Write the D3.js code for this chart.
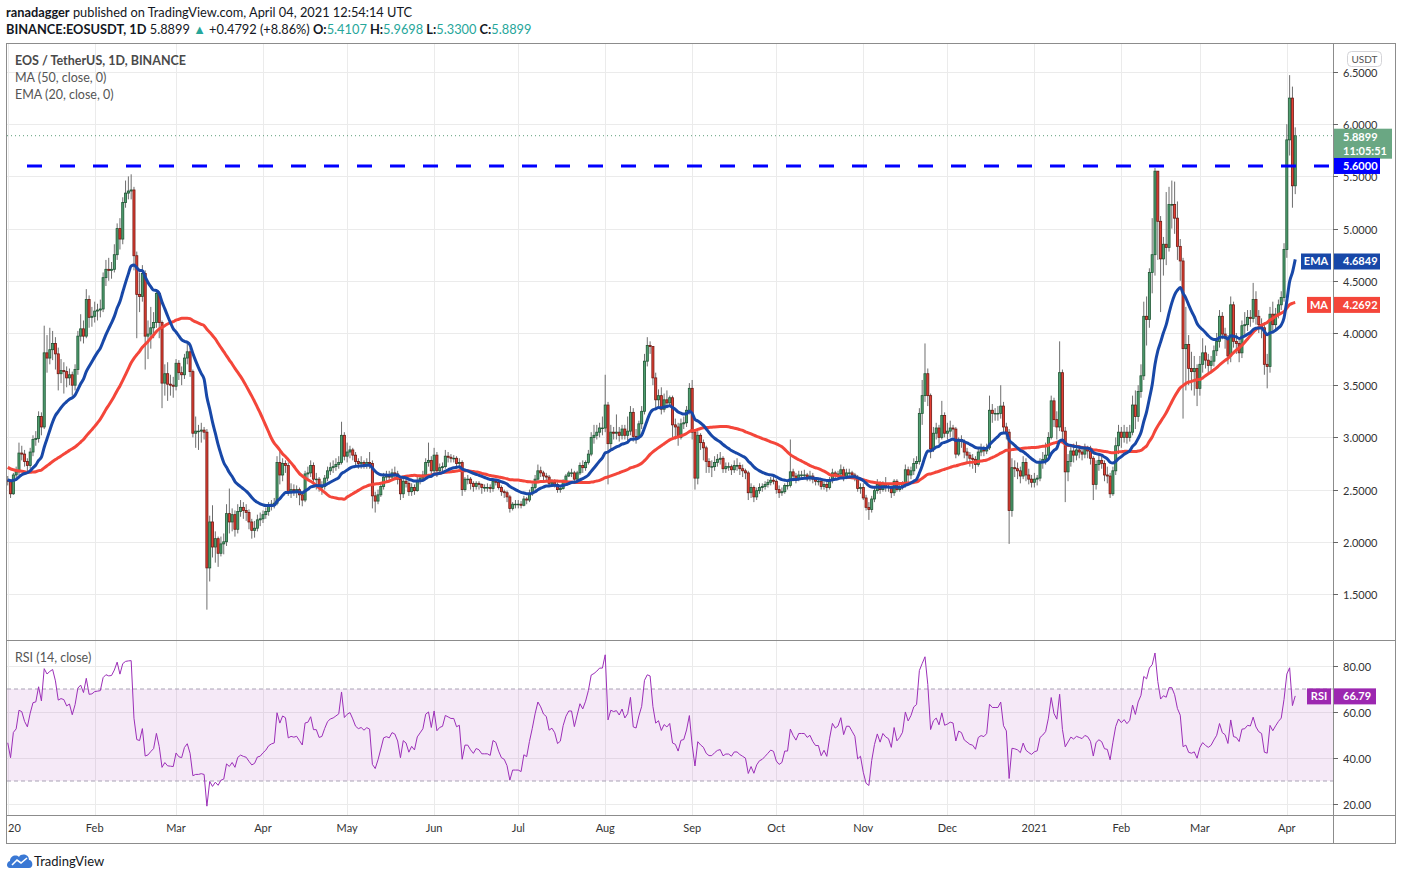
<!DOCTYPE html>
<html>
<head>
  <meta charset="utf-8">
  <script src="https://d3js.org/d3.v7.min.js"></script>
  <style>
    body { margin: 0; background: #fff; }
    svg { display: block; font-family: Lato, "Liberation Sans", sans-serif; }
  </style>
</head>
<body>
<script>
// closes before Jan 1 2020 (only used to warm up the MA / EMA / RSI)
var preCloses = [
  3.20,3.15,3.10,3.05,3.05,3.00,3.00,2.95,2.90,2.85,
  2.85,2.70,2.82,2.72,2.75,2.88,2.82,2.90,2.78,2.76,
  2.70,2.72,2.68,2.74,2.80,2.86,2.78,2.72,2.66,2.64,
  2.62,2.64,2.55,2.48,2.30,2.22,2.52,2.45,2.50,2.48,
  2.62,2.58,2.55,2.54,2.56,2.60,2.64,2.70,2.62,2.59
];

// daily candles, Jan 1 2020 .. Apr 4 2021 (open = previous close)
var closes = [
  // 2020 jan
  2.58,2.46,2.64,2.67,2.85,2.84,2.77,2.73,2.86,2.98,2.99,3.20,3.10,3.81,3.76,3.84,3.90,3.80,3.61,3.64,3.63,3.57,3.60,3.50,3.65,3.97,4.04,3.97,4.32,4.15,4.16,
  // feb
  4.21,4.22,4.23,4.53,4.61,4.60,4.61,4.75,5.00,4.90,5.25,5.34,5.36,5.37,4.74,4.37,4.35,4.57,3.97,3.99,4.05,4.10,4.38,4.10,3.52,3.61,3.51,3.50,3.49,
  // mar
  3.71,3.62,3.60,3.76,3.82,3.63,3.04,3.06,3.06,3.07,3.05,1.75,2.19,1.95,2.03,1.89,1.98,2.00,2.27,2.19,2.26,2.12,2.29,2.33,2.30,2.28,2.19,2.11,2.13,2.21,2.22,
  // apr
  2.26,2.29,2.34,2.36,2.37,2.76,2.64,2.75,2.73,2.48,2.50,2.49,2.50,2.45,2.40,2.65,2.66,2.73,2.60,2.60,2.52,2.53,2.61,2.68,2.71,2.72,2.74,2.76,3.02,2.82,
  // may
  2.86,2.88,2.83,2.77,2.75,2.76,2.74,2.76,2.75,2.44,2.39,2.45,2.53,2.62,2.63,2.62,2.66,2.65,2.60,2.46,2.58,2.56,2.48,2.52,2.49,2.58,2.61,2.64,2.76,2.78,2.68,
  // jun
  2.83,2.68,2.71,2.72,2.82,2.81,2.80,2.80,2.75,2.76,2.50,2.60,2.60,2.56,2.53,2.56,2.55,2.52,2.52,2.52,2.51,2.58,2.57,2.52,2.48,2.47,2.43,2.32,2.36,2.36,
  // jul
  2.36,2.35,2.41,2.40,2.46,2.52,2.60,2.68,2.66,2.63,2.62,2.56,2.57,2.55,2.50,2.51,2.58,2.63,2.66,2.66,2.60,2.66,2.73,2.71,2.76,2.84,3.00,3.02,3.05,3.09,3.09,
  // aug
  3.31,2.94,3.05,3.04,3.05,3.02,3.08,3.02,3.06,3.24,3.01,3.00,3.13,3.25,3.73,3.88,3.87,3.57,3.36,3.40,3.27,3.36,3.33,3.38,3.12,3.10,3.00,3.13,3.14,3.26,3.47,
  // sep
  3.05,2.61,3.02,2.95,2.90,2.77,2.72,2.72,2.76,2.79,2.80,2.70,2.72,2.72,2.69,2.73,2.73,2.70,2.68,2.66,2.47,2.52,2.43,2.49,2.52,2.53,2.55,2.57,2.59,2.58,
  // oct
  2.50,2.47,2.48,2.54,2.54,2.67,2.63,2.60,2.64,2.64,2.64,2.62,2.63,2.60,2.58,2.58,2.53,2.55,2.52,2.59,2.66,2.64,2.65,2.69,2.62,2.66,2.66,2.64,2.62,2.51,2.52,
  // nov
  2.42,2.33,2.31,2.41,2.49,2.55,2.50,2.55,2.53,2.52,2.47,2.58,2.50,2.52,2.55,2.69,2.64,2.68,2.75,2.77,3.23,3.40,3.61,3.40,2.89,3.04,3.09,3.00,3.21,3.04,
  // dec
  3.06,3.09,3.08,2.84,2.98,2.96,2.86,2.83,2.80,2.79,2.74,2.86,2.88,2.87,2.90,3.26,3.23,3.23,3.23,3.30,3.10,3.05,2.30,2.71,2.70,2.68,2.63,2.76,2.64,2.60,2.57,
  // 2021 jan
  2.60,2.61,2.76,2.79,2.83,3.00,3.35,3.17,3.10,3.62,3.06,2.67,2.77,2.87,2.83,2.88,2.86,2.84,2.89,2.87,2.80,2.55,2.74,2.78,2.75,2.64,2.63,2.46,2.68,2.92,3.05,
  // feb
  3.00,3.05,3.00,3.05,3.31,3.20,3.44,3.59,4.16,4.13,4.58,4.75,5.55,5.07,4.71,4.85,4.82,5.23,5.23,5.10,4.83,4.69,3.85,3.89,3.66,3.63,3.66,3.47,
  // mar
  3.70,3.81,3.74,3.69,3.73,3.83,3.92,4.16,3.99,3.95,3.78,4.27,3.92,3.90,3.81,4.07,4.08,4.15,4.14,4.32,4.16,4.08,4.05,3.70,3.68,4.18,4.08,4.18,4.27,4.34,4.80,
  // apr
  5.85,6.25,5.41,5.8899
];

var highs = [
  2.63,2.60,2.66,2.72,2.95,2.92,2.88,2.80,2.90,3.02,3.06,3.25,3.24,4.07,3.98,4.05,4.02,3.96,3.86,3.75,3.72,3.68,3.66,3.63,3.70,4.02,4.18,4.12,4.42,4.36,4.25,
  4.30,4.28,4.32,4.58,4.70,4.72,4.68,4.85,5.05,5.10,5.30,5.46,5.50,5.52,5.40,4.78,4.58,4.65,4.60,4.12,4.25,4.20,4.42,4.40,4.12,3.70,3.72,3.60,3.58,
  3.75,3.74,3.68,3.80,3.90,3.86,3.65,3.20,3.12,3.14,3.10,3.08,2.25,2.35,2.10,2.05,2.05,2.08,2.36,2.51,2.32,2.30,2.36,2.40,2.38,2.36,2.31,2.22,2.20,2.26,2.28,
  2.30,2.33,2.38,2.40,2.42,2.82,2.88,2.80,2.78,2.76,2.56,2.55,2.54,2.52,2.48,2.68,2.72,2.78,2.76,2.66,2.62,2.58,2.64,2.72,2.76,2.78,2.80,2.82,3.15,3.05,
  2.95,2.92,2.90,2.86,2.80,2.82,2.78,2.80,2.86,2.78,2.48,2.50,2.56,2.66,2.68,2.68,2.70,2.72,2.68,2.62,2.62,2.64,2.58,2.56,2.55,2.62,2.64,2.68,2.80,2.95,2.82,
  2.90,2.86,2.75,2.76,2.88,2.86,2.84,2.83,2.82,2.80,2.78,2.62,2.64,2.62,2.58,2.58,2.58,2.56,2.55,2.56,2.55,2.60,2.60,2.58,2.54,2.50,2.49,2.45,2.38,2.40,
  2.40,2.39,2.44,2.43,2.50,2.56,2.64,2.74,2.72,2.68,2.66,2.64,2.60,2.60,2.57,2.54,2.60,2.65,2.68,2.70,2.68,2.68,2.76,2.78,2.78,2.88,3.05,3.12,3.12,3.14,3.20,
  3.60,3.34,3.12,3.10,3.22,3.10,3.12,3.12,3.20,3.30,3.28,3.08,3.16,3.30,3.80,3.96,3.92,3.86,3.62,3.46,3.48,3.42,3.45,3.40,3.40,3.18,3.14,3.18,3.20,3.30,3.52,
  3.55,3.08,3.06,3.04,2.98,2.92,2.80,2.78,2.82,2.84,2.86,2.82,2.76,2.76,2.74,2.78,2.80,2.76,2.74,2.70,2.68,2.56,2.54,2.52,2.56,2.56,2.58,2.60,2.62,2.62,
  2.60,2.54,2.52,2.56,2.58,2.98,2.70,2.66,2.68,2.68,2.69,2.66,2.68,2.66,2.62,2.61,2.60,2.58,2.58,2.62,2.70,2.68,2.68,2.74,2.72,2.70,2.70,2.68,2.66,2.64,2.56,
  2.56,2.45,2.38,2.44,2.52,2.60,2.58,2.58,2.62,2.56,2.54,2.60,2.60,2.55,2.58,2.74,2.72,2.72,2.80,2.82,3.28,3.55,3.90,3.66,3.42,3.10,3.14,3.12,3.35,3.24,
  3.14,3.16,3.12,3.10,3.00,3.02,2.98,2.90,2.86,2.84,2.82,2.90,2.94,2.92,2.94,3.40,3.32,3.28,3.30,3.50,3.34,3.14,3.08,2.80,2.78,2.76,2.72,2.82,2.80,2.70,2.64,
  2.66,2.64,2.80,2.86,2.95,3.05,3.40,3.38,3.25,3.92,3.65,3.10,2.84,2.92,2.94,2.96,2.92,2.90,2.94,2.92,2.92,2.82,2.78,2.84,2.82,2.78,2.72,2.66,2.72,3.00,3.12,
  3.10,3.12,3.10,3.12,3.40,3.45,3.50,3.70,4.30,4.35,4.62,5.10,5.58,5.55,5.12,4.92,5.35,5.40,5.46,5.45,5.26,4.90,4.72,4.25,3.98,3.82,3.78,3.70,
  3.78,3.95,3.88,3.80,3.78,3.88,4.00,4.22,4.20,4.05,3.98,4.35,4.30,4.00,3.95,4.12,4.20,4.22,4.22,4.48,4.40,4.22,4.14,4.10,3.80,4.25,4.30,4.24,4.32,4.40,4.86,
  6.00,6.47,6.36,5.9698
];

var lows = [
  2.54,2.42,2.45,2.60,2.64,2.78,2.72,2.66,2.70,2.82,2.92,2.95,3.02,3.08,3.62,3.70,3.74,3.65,3.45,3.52,3.42,3.48,3.50,3.40,3.45,3.60,3.92,3.90,3.95,4.05,4.06,
  4.10,4.12,4.15,4.20,4.45,4.50,4.52,4.58,4.70,4.80,4.85,5.20,5.28,5.28,4.60,3.95,4.20,4.30,3.65,3.75,3.85,3.95,4.05,3.95,3.28,3.40,3.35,3.40,3.38,
  3.45,3.55,3.50,3.56,3.70,3.58,3.00,2.90,2.88,2.95,2.98,1.35,1.62,1.85,1.80,1.76,1.86,1.88,1.96,2.08,2.10,2.05,2.08,2.24,2.22,2.20,2.12,2.03,2.04,2.10,2.15,
  2.18,2.22,2.25,2.30,2.32,2.35,2.55,2.58,2.66,2.44,2.42,2.44,2.42,2.35,2.34,2.38,2.58,2.62,2.56,2.50,2.48,2.45,2.50,2.58,2.64,2.66,2.68,2.70,2.74,2.78,
  2.76,2.80,2.78,2.72,2.70,2.70,2.70,2.70,2.70,2.32,2.28,2.36,2.43,2.50,2.58,2.57,2.60,2.60,2.55,2.40,2.42,2.52,2.44,2.44,2.45,2.48,2.55,2.58,2.62,2.72,2.64,
  2.66,2.62,2.65,2.66,2.70,2.76,2.76,2.76,2.70,2.70,2.44,2.48,2.55,2.50,2.48,2.50,2.50,2.46,2.48,2.48,2.47,2.48,2.54,2.50,2.44,2.42,2.38,2.28,2.30,2.32,
  2.32,2.32,2.34,2.36,2.38,2.44,2.50,2.58,2.62,2.58,2.58,2.52,2.53,2.52,2.47,2.47,2.50,2.56,2.62,2.62,2.56,2.58,2.64,2.66,2.68,2.74,2.82,2.94,2.98,3.00,3.02,
  3.05,2.55,2.88,2.98,2.98,2.96,2.98,2.98,2.96,3.02,2.96,2.94,2.98,3.08,3.22,3.68,3.80,3.50,3.28,3.30,3.22,3.24,3.28,3.30,3.00,2.98,2.92,2.98,3.08,3.10,3.22,
  2.98,2.50,2.55,2.88,2.78,2.66,2.66,2.62,2.68,2.72,2.74,2.66,2.66,2.68,2.64,2.66,2.68,2.64,2.62,2.60,2.40,2.42,2.38,2.40,2.46,2.48,2.50,2.52,2.54,2.55,
  2.46,2.42,2.44,2.46,2.50,2.52,2.58,2.56,2.58,2.60,2.60,2.58,2.58,2.56,2.54,2.54,2.50,2.50,2.48,2.50,2.56,2.60,2.60,2.62,2.58,2.60,2.62,2.60,2.58,2.48,2.46,
  2.40,2.30,2.21,2.28,2.38,2.46,2.46,2.48,2.48,2.48,2.42,2.44,2.48,2.48,2.50,2.52,2.56,2.60,2.64,2.70,2.74,3.12,3.34,3.30,2.80,2.86,2.98,2.94,2.98,3.00,
  2.98,3.00,3.00,2.80,2.82,2.90,2.80,2.76,2.72,2.70,2.66,2.72,2.82,2.82,2.84,2.88,3.14,3.16,3.16,3.18,3.04,2.98,1.98,2.24,2.62,2.60,2.56,2.60,2.58,2.55,2.52,
  2.52,2.54,2.58,2.70,2.74,2.78,2.98,3.10,2.98,3.06,2.98,2.38,2.58,2.72,2.76,2.78,2.80,2.78,2.80,2.80,2.74,2.40,2.50,2.68,2.70,2.58,2.56,2.42,2.44,2.64,2.84,
  2.90,2.95,2.94,2.96,3.02,3.08,3.15,3.38,3.55,3.88,4.05,4.38,4.55,4.70,4.20,4.55,4.65,4.78,5.00,4.95,4.70,4.50,3.18,3.45,3.50,3.45,3.40,3.30,
  3.40,3.62,3.66,3.60,3.62,3.68,3.78,3.86,3.94,3.85,3.70,3.72,3.86,3.80,3.72,3.76,3.98,4.02,4.06,4.10,4.08,4.00,3.95,3.60,3.47,3.62,4.00,4.02,4.14,4.22,4.30,
  4.72,5.70,5.20,5.33
];

var monthLabels = ["2020","Feb","Mar","Apr","May","Jun","Jul","Aug","Sep","Oct","Nov","Dec","2021","Feb","Mar","Apr"];
var priceTicks = [1.5, 2.0, 2.5, 3.0, 3.5, 4.0, 4.5, 5.0, 5.5, 6.0, 6.5];
var rsiTicks = [20, 40, 60, 80];
var resistance = 5.6;
var lastPrice = 5.8899, countdown = "11:05:51";
var lastEma = 4.6849, lastMa = 4.2692, lastRsi = 66.79;

if (closes.length !== 460 || highs.length !== 460 || lows.length !== 460) {
  throw new Error("length mismatch " + closes.length + " " + highs.length + " " + lows.length);
}

var W = 1402, H = 880;
var L = 7, R = 1333, T = 44, PB = 640, RB = 815, AB = 843;
var upFill = "#4f9f70", upLine = "#1f5634", dnFill = "#e33f33", dnLine = "#6e1a14", wickCol = "#6e6e6e";
var emaCol = "#1848a8", maCol = "#f4463a", rsiCol = "#9c2fb8";

var svg = d3.select("body").append("svg").attr("width", W).attr("height", H);

var day = 864e5, t0 = Date.UTC(2020, 0, 1);
var x = d3.scaleUtc()
  .domain([new Date(t0), new Date(Date.UTC(2021, 3, 1))])
  .range([7.75, 7.75 + 2.805 * 456]);
var y = d3.scaleLinear().domain([1.5, 6.5]).range([594, 72]);
var yR = d3.scaleLinear().domain([20, 80]).range([804, 666]);

var candles = closes.map(function (c, i) {
  var o = i === 0 ? preCloses[preCloses.length - 1] : closes[i - 1];
  return {
    date: new Date(t0 + i * day), o: o, c: c,
    h: Math.max(highs[i], o, c), l: Math.min(lows[i], o, c)
  };
});

// indicators
var all = preCloses.concat(closes), n0 = preCloses.length;
var ma = [], ema = [], rsi = [];
var k = 2 / 21, e = d3.mean(all.slice(0, 20));
var ag = 0, al = 0;
for (var j = 1; j <= 14; j++) {
  var ch = all[j] - all[j - 1];
  if (ch > 0) ag += ch; else al -= ch;
}
ag /= 14; al /= 14;
for (var j = 15; j < all.length; j++) {
  var ch = all[j] - all[j - 1];
  ag = (ag * 13 + Math.max(ch, 0)) / 14;
  al = (al * 13 + Math.max(-ch, 0)) / 14;
  if (j >= n0) rsi.push(100 - 100 / (1 + ag / al));
}
for (var j = 20; j < all.length; j++) {
  e = all[j] * k + e * (1 - k);
  if (j >= n0) ema.push(e);
}
for (var j = n0; j < all.length; j++) ma.push(d3.mean(all.slice(j - 49, j + 1)));

var defs = svg.append("defs");
defs.append("clipPath").attr("id", "main").append("rect").attr("x", L).attr("y", T).attr("width", R - L).attr("height", PB - T);
defs.append("clipPath").attr("id", "rsi").append("rect").attr("x", L).attr("y", PB + 1).attr("width", R - L).attr("height", RB - PB - 1);

// header
var hd = svg.append("text").attr("x", 6).attr("y", 17).attr("font-size", 12.8).attr("fill", "#131722");
hd.append("tspan").attr("font-weight", "bold").text("ranadagger");
hd.append("tspan").text(" published on TradingView.com, April 04, 2021 12:54:14 UTC");
var h2 = svg.append("text").attr("x", 6).attr("y", 34).attr("font-size", 12.8).attr("fill", "#131722");
h2.append("tspan").attr("font-weight", "bold").text("BINANCE:EOSUSDT, 1D");
h2.append("tspan").text(" 5.8899 ");
h2.append("tspan").attr("fill", "#26a69a").text("▲");
h2.append("tspan").text(" +0.4792 (+8.86%) ");
[["O:", "5.4107"], ["H:", "5.9698"], ["L:", "5.3300"], ["C:", "5.8899"]].forEach(function (p, i) {
  h2.append("tspan").attr("font-weight", "bold").text((i ? " " : "") + p[0]);
  h2.append("tspan").attr("fill", "#26a69a").text(p[1]);
});

// grids
var months = monthLabels.map(function (m, i) { return new Date(Date.UTC(2020, i, 1)); });
var grid = svg.append("g").attr("stroke", "#ebebeb").attr("stroke-width", 1);
months.forEach(function (d) {
  var xx = Math.round(x(d)) + 0.5;
  grid.append("line").attr("x1", xx).attr("x2", xx).attr("y1", T).attr("y2", PB);
  grid.append("line").attr("x1", xx).attr("x2", xx).attr("y1", PB + 1).attr("y2", RB);
});
priceTicks.forEach(function (p) {
  var yy = Math.round(y(p)) + 0.5;
  grid.append("line").attr("x1", L).attr("x2", R).attr("y1", yy).attr("y2", yy);
});
rsiTicks.forEach(function (p) {
  var yy = Math.round(yR(p)) + 0.5;
  grid.append("line").attr("x1", L).attr("x2", R).attr("y1", yy).attr("y2", yy);
});

// main pane
var main = svg.append("g").attr("clip-path", "url(#main)");

main.append("line")
  .attr("x1", L).attr("x2", R).attr("y1", y(lastPrice)).attr("y2", y(lastPrice))
  .attr("stroke", "#5e9e7a").attr("stroke-width", 1).attr("stroke-dasharray", "1 3");

var cg = main.append("g");
cg.selectAll("line.wick").data(candles).enter().append("line")
  .attr("class", "wick")
  .attr("x1", function (d) { return x(d.date); }).attr("x2", function (d) { return x(d.date); })
  .attr("y1", function (d) { return y(d.h); }).attr("y2", function (d) { return y(d.l); })
  .attr("stroke", wickCol).attr("stroke-width", 1);
cg.selectAll("rect").data(candles).enter().append("rect")
  .attr("x", function (d) { return x(d.date) - 1.05; })
  .attr("width", 2.1)
  .attr("y", function (d) { return y(Math.max(d.o, d.c)); })
  .attr("height", function (d) { return Math.max(0.6, Math.abs(y(d.o) - y(d.c))); })
  .attr("fill", function (d) { return d.c >= d.o ? upFill : dnFill; })
  .attr("stroke", function (d) { return d.c >= d.o ? upLine : dnLine; })
  .attr("stroke-width", 0.8);

var line = d3.line().x(function (d, i) { return x(candles[i].date); }).y(function (d) { return y(d); }).curve(d3.curveMonotoneX);
main.append("path").datum(ma).attr("d", line).attr("fill", "none").attr("stroke", maCol).attr("stroke-width", 3).attr("stroke-linejoin", "round");
main.append("path").datum(ema).attr("d", line).attr("fill", "none").attr("stroke", emaCol).attr("stroke-width", 3).attr("stroke-linejoin", "round");

main.append("line")
  .attr("x1", 27).attr("x2", R).attr("y1", y(resistance)).attr("y2", y(resistance))
  .attr("stroke", "#0000ff").attr("stroke-width", 3).attr("stroke-dasharray", "15 18");

// legend
svg.append("text").attr("x", 15).attr("y", 65).attr("font-size", 12.5).attr("font-weight", "bold").attr("fill", "#4a4a4a").text("EOS / TetherUS, 1D, BINANCE");
svg.append("text").attr("x", 15).attr("y", 82).attr("font-size", 12.5).attr("fill", "#555").text("MA (50, close, 0)");
svg.append("text").attr("x", 15).attr("y", 99).attr("font-size", 12.5).attr("fill", "#555").text("EMA (20, close, 0)");

// RSI pane
var rp = svg.append("g").attr("clip-path", "url(#rsi)");
rp.append("rect").attr("x", L).attr("width", R - L).attr("y", yR(70)).attr("height", yR(30) - yR(70)).attr("fill", "#9c27b0").attr("fill-opacity", 0.1);
[70, 30].forEach(function (v) {
  rp.append("line").attr("x1", L).attr("x2", R).attr("y1", yR(v)).attr("y2", yR(v))
    .attr("stroke", "#a9a2b5").attr("stroke-width", 1).attr("stroke-dasharray", "4 3");
});
var rline = d3.line().x(function (d, i) { return x(candles[i].date); }).y(function (d) { return yR(d); });
rp.append("path").datum(rsi).attr("d", rline).attr("fill", "none").attr("stroke", rsiCol).attr("stroke-width", 1);
svg.append("text").attr("x", 15).attr("y", 662).attr("font-size", 12.5).attr("fill", "#555").text("RSI (14, close)");

// frame
var fr = svg.append("g").attr("stroke", "#8c8c8c").attr("stroke-width", 1).attr("fill", "none");
fr.append("rect").attr("x", 6.5).attr("y", 43.5).attr("width", 1389).attr("height", 800);
fr.append("line").attr("x1", 6).attr("x2", 1396).attr("y1", PB + 0.5).attr("y2", PB + 0.5);
fr.append("line").attr("x1", 6).attr("x2", 1396).attr("y1", RB + 0.5).attr("y2", RB + 0.5);
fr.append("line").attr("x1", R + 0.5).attr("x2", R + 0.5).attr("y1", 43).attr("y2", AB);

// price scale
var ps = svg.append("g").attr("font-size", 11).attr("fill", "#333");
priceTicks.forEach(function (p) {
  var yy = Math.round(y(p)) + 0.5;
  ps.append("line").attr("x1", R).attr("x2", R + 5).attr("y1", yy).attr("y2", yy).attr("stroke", "#666");
  ps.append("text").attr("x", 1343).attr("y", yy + 4).text(d3.format(".4f")(p));
});
rsiTicks.forEach(function (p) {
  var yy = Math.round(yR(p)) + 0.5;
  ps.append("line").attr("x1", R).attr("x2", R + 5).attr("y1", yy).attr("y2", yy).attr("stroke", "#666");
  ps.append("text").attr("x", 1343).attr("y", yy + 4).text(d3.format(".2f")(p));
});
svg.append("rect").attr("x", 1347.5).attr("y", 51.5).attr("width", 34).attr("height", 15).attr("rx", 4)
  .attr("fill", "#fff").attr("stroke", "#d4d4d8");
svg.append("text").attr("x", 1364.5).attr("y", 62.5).attr("text-anchor", "middle").attr("font-size", 10).attr("fill", "#555").text("USDT");

// value labels on the scale
function tag(v, yy, fill, label, lw, w, extra) {
  var h = extra ? 30 : 16, top = yy - 8;
  svg.append("rect").attr("x", R + 1).attr("y", top).attr("width", w).attr("height", h).attr("fill", fill);
  svg.append("text").attr("x", 1343).attr("y", top + 12).attr("font-size", 11).attr("font-weight", "bold").attr("fill", "#fff").text(v);
  if (extra) svg.append("text").attr("x", 1343).attr("y", top + 26).attr("font-size", 11).attr("font-weight", "bold").attr("fill", "#fff").text(extra);
  if (label) {
    svg.append("rect").attr("x", R - 2 - lw).attr("y", top).attr("width", lw).attr("height", h).attr("fill", fill);
    svg.append("text").attr("x", R - 2 - lw / 2).attr("y", top + 12).attr("text-anchor", "middle").attr("font-size", 11).attr("font-weight", "bold").attr("fill", "#fff").text(label);
  }
}
tag("5.8899", y(lastPrice) + 1, "#6aa783", null, 0, 58, countdown);
tag("5.6000", y(resistance), "#0000ff", null, 0, 46);
tag("4.6849", y(lastEma), emaCol, "EMA", 30, 46);
tag("4.2692", y(lastMa), maCol, "MA", 24, 46);
tag("66.79", yR(lastRsi), "#9c27b0", "RSI", 24, 42);

// time axis (the first label sits at the pane edge, only its tail shows)
var ta = svg.append("g").attr("font-size", 11).attr("fill", "#333");
months.forEach(function (d, i) {
  if (i === 0) {
    ta.append("text").attr("x", 8).attr("y", 832).text(monthLabels[0].slice(2));
  } else {
    ta.append("text").attr("x", x(d)).attr("y", 832).attr("text-anchor", "middle").text(monthLabels[i]);
  }
});

// footer logo
var logo = svg.append("g").attr("transform", "translate(6,852)");
logo.append("path")
  .attr("d", "M4,16 C0,16 0,10 4,9 C4,4 10,2 13,5 C15,1 23,2 23,8 C27,8 28,16 23,16 Z")
  .attr("fill", "#3a78d4");
logo.append("path").attr("d", "M6,13 L11,8 L15,11 L21,6").attr("fill", "none").attr("stroke", "#fff").attr("stroke-width", 1.6);
svg.append("text").attr("x", 34).attr("y", 866).attr("font-size", 13).attr("fill", "#131722").text("TradingView");
</script>
</body>
</html>
